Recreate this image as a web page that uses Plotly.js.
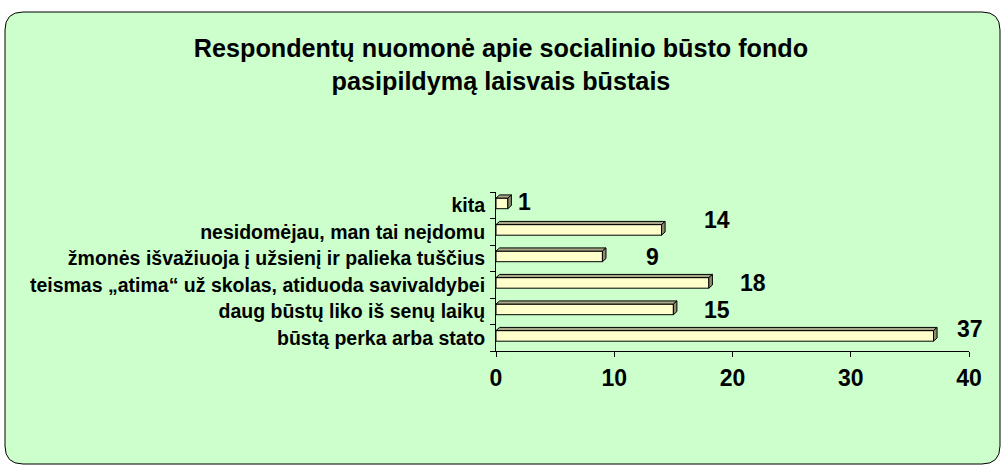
<!DOCTYPE html>
<html>
<head>
<meta charset="utf-8">
<script src="https://cdn.plot.ly/plotly-3.0.1.min.js"></script>
<style>html,body{margin:0;padding:0;background:#fff;}#chart{width:1002px;height:466px;}</style>
</head>
<body>
<div id="chart"></div>
<script>
const categories = [
  'kita',
  'nesidomėjau, man tai neįdomu',
  'žmonės išvažiuoja į užsienį ir palieka tuščius',
  'teismas „atima“ už skolas, atiduoda savivaldybei',
  'daug būstų liko iš senų laikų',
  'būstą perka arba stato'
];
const values = [1, 14, 9, 18, 15, 37];
const xTicks = [0, 10, 20, 30, 40];
const titleText = 'Respondentų nuomonė apie socialinio būsto fondo<br>pasipildymą laisvais būstais';

// label placement offsets (pixels) – layout only
const labelXShift = [17, 55, 50, 44, 44, 36];
const labelYShift = [3, 12, 1, 2, 1, 9];

const W = 1002, H = 466;
const M = {l: 496, r: 33, t: 192, b: 115};
const PW = W - M.l - M.r, PH = H - M.t - M.b;
const px2x = p => (p - M.l) / PW;
const px2y = p => (H - M.b - p) / PH;
const FONT = 'Liberation Sans, Arial, sans-serif';

const idx = categories.map((c, i) => i);
const barW = 0.4, barOff = -0.27, dx = 0.3, dy = 0.12;

const shapes = [];
// rounded background frame
(function(){
  const x0 = 5, x1 = 1000, y0 = 12, y1 = 464, r = 18;
  const P = (x, y) => px2x(x) + ',' + px2y(y);
  const path = 'M' + P(x0 + r, y0) + ' L' + P(x1 - r, y0) + ' Q' + P(x1, y0) + ' ' + P(x1, y0 + r) +
    ' L' + P(x1, y1 - r) + ' Q' + P(x1, y1) + ' ' + P(x1 - r, y1) +
    ' L' + P(x0 + r, y1) + ' Q' + P(x0, y1) + ' ' + P(x0, y1 - r) +
    ' L' + P(x0, y0 + r) + ' Q' + P(x0, y0) + ' ' + P(x0 + r, y0) + ' Z';
  shapes.push({type: 'path', xref: 'paper', yref: 'paper', path: path,
    fillcolor: '#CCFFCC', line: {color: '#000', width: 1}, layer: 'below'});
})();

// 3D faces of bars
values.forEach((v, i) => {
  const top = i + barOff, bot = i + barOff + barW;
  shapes.push({type: 'path', xref: 'x', yref: 'y', layer: 'above',
    path: `M0,${top} L${v},${top} L${v + dx},${top - dy} L${dx},${top - dy} Z`,
    fillcolor: '#A8A888', line: {color: '#000', width: 1}});
  shapes.push({type: 'path', xref: 'x', yref: 'y', layer: 'above',
    path: `M${v},${top} L${v + dx},${top - dy} L${v + dx},${bot - dy} L${v},${bot} Z`,
    fillcolor: '#8E8E6E', line: {color: '#000', width: 1}});
});

const annotations = values.map((v, i) => ({
  x: v, y: i, xref: 'x', yref: 'y', text: String(v), showarrow: false,
  xshift: labelXShift[i], yshift: labelYShift[i],
  font: {family: FONT, size: 23, color: '#000', weight: 'bold'}
}));

const bounds = [];
for (let i = 0; i <= categories.length; i++) bounds.push(i - 0.5);

const trace = {
  type: 'bar', orientation: 'h',
  x: values, y: idx,
  width: barW, offset: barOff,
  marker: {color: '#FFFFCC', line: {color: '#000', width: 1}},
  hoverinfo: 'skip'
};

const layout = {
  width: W, height: H,
  margin: M,
  paper_bgcolor: '#ffffff',
  plot_bgcolor: 'rgba(0,0,0,0)',
  showlegend: false,
  title: {text: titleText, x: 0.5, xref: 'container', xanchor: 'center',
    y: 0.877, yref: 'container', yanchor: 'top',
    font: {family: FONT, size: 25.2, color: '#000', weight: 'bold'}},
  xaxis: {
    range: [0, 40], tickvals: xTicks, ticktext: xTicks.map(String),
    showgrid: false, zeroline: false, showline: true, linecolor: '#000', linewidth: 1,
    ticks: 'outside', ticklen: 5, tickcolor: '#000', ticklabelstandoff: 1,
    tickfont: {family: FONT, size: 23, color: '#000', weight: 'bold'},
    fixedrange: true
  },
  yaxis: {
    range: [categories.length - 0.5, -0.5],
    tickvals: idx, ticktext: categories,
    showgrid: false, zeroline: false, showline: true, linecolor: '#000', linewidth: 1,
    ticks: '', ticklabelstandoff: 6,
    minor: {tickvals: bounds, ticks: 'outside', ticklen: 5, tickcolor: '#000', showgrid: false},
    tickfont: {family: FONT, size: 19.5, color: '#000', weight: 'bold'},
    fixedrange: true
  },
  shapes: shapes,
  annotations: annotations
};

Plotly.newPlot('chart', [trace], layout, {displayModeBar: false, staticPlot: true});
</script>
</body>
</html>
